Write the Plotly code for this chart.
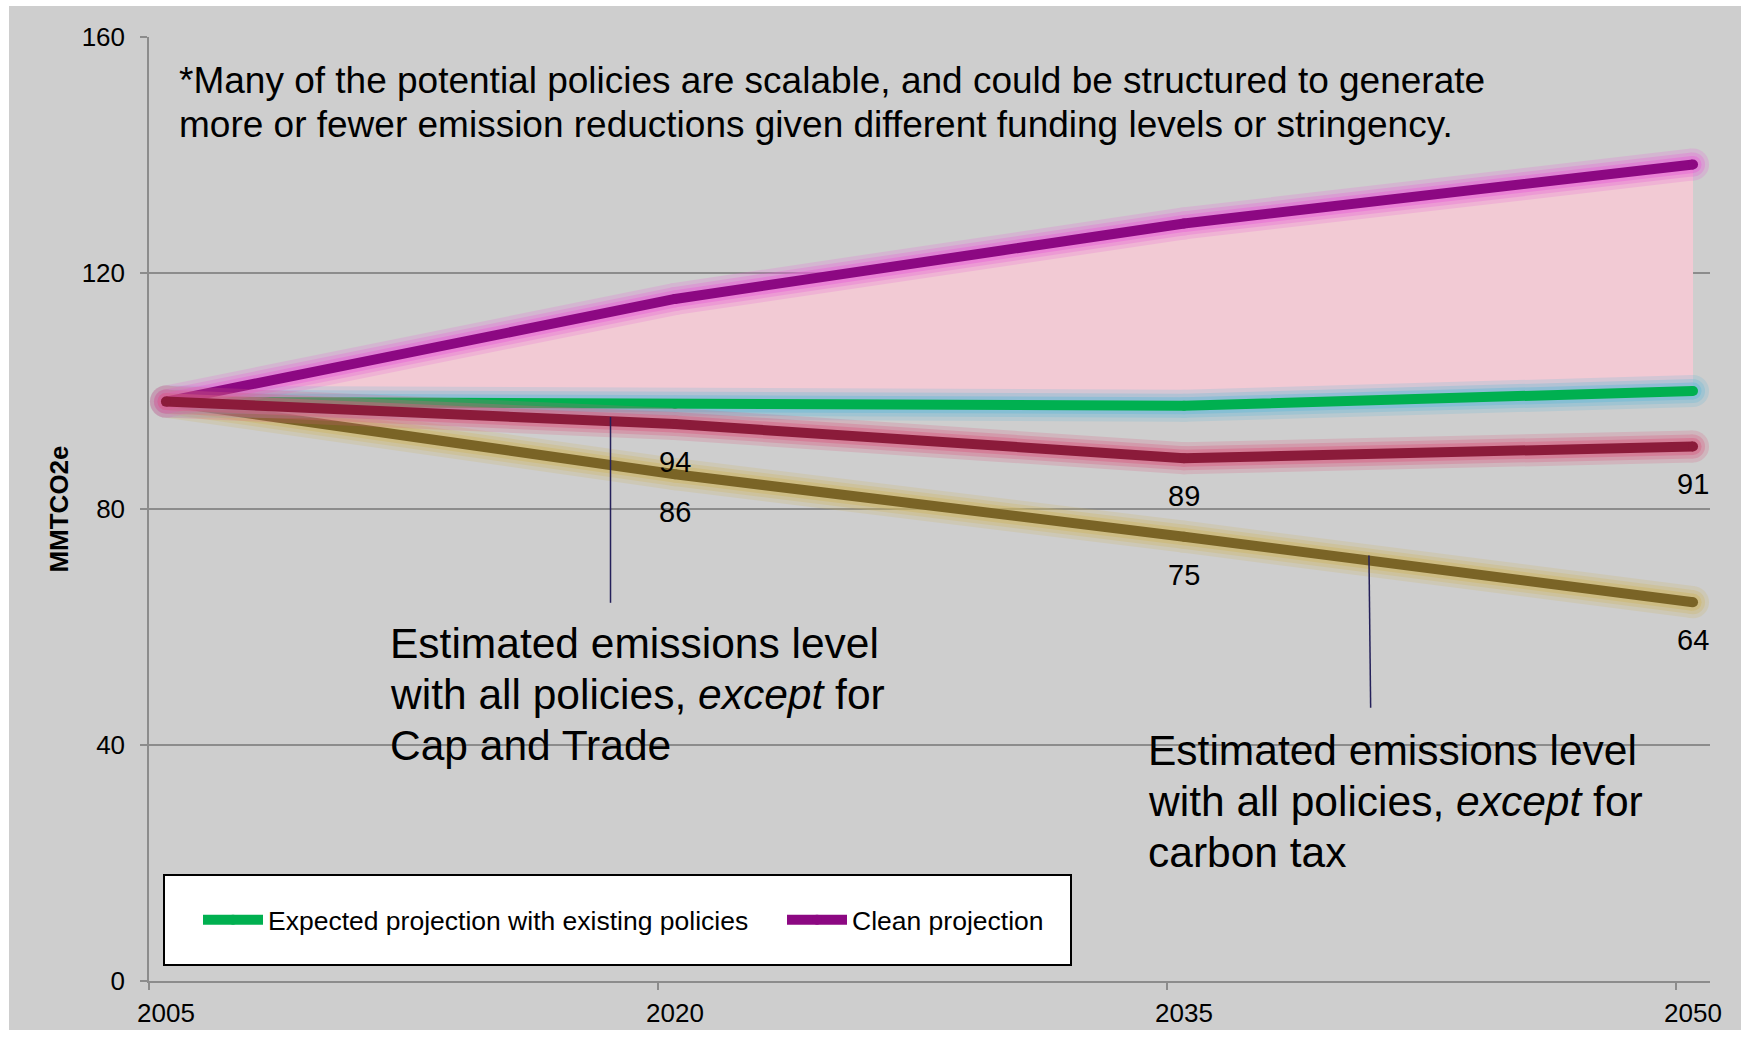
import plotly.graph_objects as go

# ---------------- data ----------------
years = [2005, 2020, 2035, 2050]
x_tick_labels = ["2005", "2020", "2035", "2050"]
y_ticks = [0, 40, 80, 120, 160]

expected = [98.2, 97.8, 97.5, 100.0]            # Expected projection with existing policies
clean = [98.2, 115.6, 128.4, 138.4]             # Clean projection
except_cap_trade = [98.2, 94.4, 88.6, 90.6]     # all policies except Cap and Trade
except_carbon_tax = [98.2, 85.9, 75.3, 64.2]    # all policies except carbon tax

note_lines = [
    "*Many of the potential policies are scalable, and could be structured to generate",
    "more or fewer emission reductions given different funding levels or stringency.",
]
cap_trade_lines = ["Estimated emissions level", "with all policies, <i>except</i> for", "Cap and Trade"]
carbon_tax_lines = ["Estimated emissions level", "with all policies, <i>except</i> for", "carbon tax"]

# ---------------- style ----------------
FONT = "Arial, Liberation Sans, sans-serif"
GRID = "#8C8C8C"
BG = "#CECECE"

W, H = 1741, 1040
ML, MR, MT, MB = 149, 31, 37, 59
PW, PH = W - ML - MR, H - MT - MB


def px(x):
    return (x - ML) / PW


def py(y):
    return (H - MB - y) / PH


fig = go.Figure()

# pink band between expected and clean projection
fig.add_trace(go.Scatter(x=years, y=expected, mode="lines", line=dict(width=0),
                         showlegend=False, hoverinfo="skip"))
fig.add_trace(go.Scatter(x=years, y=clean, mode="lines", line=dict(width=0),
                         fill="tonexty", fillcolor="#F2CAD4",
                         showlegend=False, hoverinfo="skip"))


def glow_line(values, color, glow, name=None, legend=False):
    for w, a in ((32, 0.22), (24, 0.3), (17, 0.45)):
        fig.add_trace(go.Scatter(
            x=years, y=values, mode="lines+markers", opacity=a,
            line=dict(width=w, color=glow),
            marker=dict(size=w, color=glow),
            showlegend=False, hoverinfo="skip"))
    fig.add_trace(go.Scatter(
        x=years, y=values, mode="lines+markers", name=name,
        line=dict(width=10, color=color),
        marker=dict(size=10, color=color),
        showlegend=legend))


glow_line(except_carbon_tax, "#7A6426", "rgb(205,182,100)")
glow_line(expected, "#00B050", "rgb(105,185,215)",
          name="Expected projection with existing policies", legend=True)
glow_line(clean, "#8C0882", "rgb(232,100,215)", name="Clean projection", legend=True)
glow_line(except_cap_trade, "#8B1B3A", "rgb(215,95,130)")

annotations = []
# value labels below the two policy lines
for series in (except_cap_trade, except_carbon_tax):
    for x, v in list(zip(years, series))[1:]:
        annotations.append(dict(x=x, y=v, text=f"{v:.0f}", showarrow=False,
                                yshift=-38, font=dict(size=29, color="black", family=FONT)))


def text_block(lines, left, first_center, spacing, size):
    for i, t in enumerate(lines):
        annotations.append(dict(
            xref="paper", yref="paper", x=px(left), y=py(first_center + i * spacing),
            xanchor="left", yanchor="middle", align="left", showarrow=False,
            text=t, font=dict(size=size, color="black", family=FONT)))


text_block(note_lines, 177, 80, 44, 37)
text_block(cap_trade_lines, 388, 643, 51, 42.5)
text_block(carbon_tax_lines, 1146, 750, 51, 42.5)

shapes = [
    # outer grey panel
    dict(type="rect", xref="paper", yref="paper", layer="below",
         x0=px(9), x1=px(W), y0=py(1030), y1=py(6),
         fillcolor=BG, line=dict(width=0)),
    # legend box
    dict(type="rect", xref="paper", yref="paper", layer="below",
         x0=px(164), x1=px(1071), y0=py(965), y1=py(875),
         fillcolor="white", line=dict(color="black", width=2)),
    # leader lines
    dict(type="line", xref="x", yref="y", x0=2018.1, x1=2018.1, y0=95.6, y1=64.1,
         line=dict(color="#24205A", width=1.5)),
    dict(type="line", xref="x", yref="y", x0=2040.45, x1=2040.5, y0=72.1, y1=46.3,
         line=dict(color="#24205A", width=1.5)),
]

fig.update_layout(
    width=W, height=H,
    margin=dict(l=ML, r=MR, t=MT, b=MB),
    paper_bgcolor="white", plot_bgcolor=BG,
    font=dict(family=FONT, color="black", size=26),
    showlegend=True,
    legend=dict(orientation="h", x=px(198), y=py(920), xanchor="left", yanchor="middle",
                traceorder="normal", entrywidth=509, entrywidthmode="pixels",
                bgcolor="rgba(0,0,0,0)", borderwidth=0, itemwidth=60,
                font=dict(size=26.5, family=FONT, color="black")),
    annotations=annotations,
    shapes=shapes,
)

fig.update_xaxes(
    range=[years[0] - 0.5, years[-1] + 0.5],
    tickmode="array", tickvals=years, ticktext=x_tick_labels, ticks="",
    showgrid=False, zeroline=False,
    showline=True, linecolor=GRID, linewidth=1.5,
    tickfont=dict(size=26, family=FONT, color="black"),
    ticklabelstandoff=8,
    minor=dict(tickmode="array", tickvals=[y - 0.5 for y in years], ticks="outside",
               ticklen=7, tickcolor=GRID, tickwidth=1.5, showgrid=False),
)
fig.update_yaxes(
    range=[0, 160], tickmode="array", tickvals=y_ticks,
    ticks="outside", ticklen=7, tickcolor=GRID, tickwidth=1.5,
    showgrid=True, gridcolor=GRID, gridwidth=1.5, zeroline=False,
    showline=True, linecolor=GRID, linewidth=1.5,
    tickfont=dict(size=26, family=FONT, color="black"),
    ticklabelstandoff=10,
    title=dict(text="<b>MMTCO2e</b>", standoff=6, font=dict(size=26, family=FONT, color="black")),
)

fig.write_html("out.html")
